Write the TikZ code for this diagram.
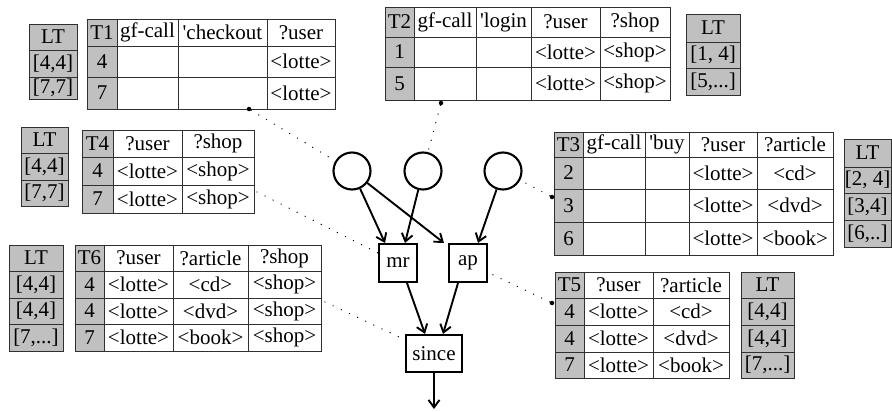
\documentclass[tikz,border=0pt]{standalone}
\usepackage{fontspec}
\setmainfont{Liberation Serif}
\usetikzlibrary{arrows.meta}

\definecolor{keygrey}{HTML}{C0C0C0}
\definecolor{rulecol}{HTML}{303030}

\tikzset{
  tcell/.style={draw=rulecol, line width=0.9pt, inner sep=0pt, outer sep=0pt,
    anchor=north west, font=\fontsize{21}{24}\selectfont},
  vertex/.style={circle, draw, line width=2.1pt, minimum size=37pt, inner sep=0pt},
  opbox/.style={rectangle, draw, line width=2.1pt, minimum width=38pt,
    minimum height=38pt, inner sep=0pt, font=\fontsize{21}{24}\selectfont},
  flow/.style={line width=1.9pt, -{Straight Barb[length=7.5pt,width=11pt]}},
  link/.style={line width=1.4pt, dash pattern=on 0pt off 9pt, line cap=round},
  pin/.style={circle, fill, inner sep=0pt, minimum size=4.5pt},
}

% one row of a relation table: key column grey, the rest white
\newcommand\tabrow[5]{%
  \foreach \xa/\xb/\txt [count=\c] in {#5} {%
    \ifnum\c=1 \def\cf{keygrey}\else\def\cf{white}\fi
    \node[tcell, fill=\cf, minimum width=\xb-\xa, minimum height=#4-#3]
      (#1-#2-\c) at (\xa,#3) {\txt};
  }}

% a column of lifetime intervals
\newcommand\ltcol[4]{%
  \foreach \ya/\yb/\txt [count=\r] in {#4} {%
    \node[tcell, fill=keygrey, minimum width=#3-#2, minimum height=\yb-\ya]
      (#1-\r) at (#2,\ya) {\txt};
  }}

\begin{document}
\begin{tikzpicture}[x=1pt, y=-1pt]
\useasboundingbox (0,0) rectangle (892,412);

% ---- T1 ----
\tabrow{t1}{0}{19}{46}{87/117/T1, 117/178/gf-call, 178/267/\textquotesingle checkout, 267/335/?user}
\tabrow{t1}{1}{46}{77}{87/117/4, 117/178/{}, 178/267/{}, 267/335/<lotte>}
\tabrow{t1}{2}{77}{109}{87/117/7, 117/178/{}, 178/267/{}, 267/335/<lotte>}
\ltcol{lt1}{29}{77}{24/50/LT, 50/77/{[4,4]}, 77/99/{[7,7]}}

% ---- T2 ----
\tabrow{t2}{0}{7}{37}{385/414/T2, 414/476/gf-call, 476/531/\textquotesingle login, 531/600/?user, 600/670/?shop}
\tabrow{t2}{1}{37}{67}{385/414/1, 414/476/{}, 476/531/{}, 531/600/<lotte>, 600/670/<shop>}
\tabrow{t2}{2}{67}{100}{385/414/5, 414/476/{}, 476/531/{}, 531/600/<lotte>, 600/670/<shop>}
\ltcol{lt2}{686}{740}{14/42/LT, 42/68/{[1, 4]}, 68/95/{[5,...]}}

% ---- T3 ----
\tabrow{t3}{0}{132}{157}{554/583/T3, 583/645/gf-call, 645/689/\textquotesingle buy, 689/757/?user, 757/833/?article}
\tabrow{t3}{1}{157}{189}{554/583/2, 583/645/{}, 645/689/{}, 689/757/<lotte>, 757/833/<cd>}
\tabrow{t3}{2}{189}{222}{554/583/3, 583/645/{}, 645/689/{}, 689/757/<lotte>, 757/833/<dvd>}
\tabrow{t3}{3}{222}{255}{554/583/6, 583/645/{}, 645/689/{}, 689/757/<lotte>, 757/833/<book>}
\ltcol{lt3}{844}{891}{139/167/LT, 167/193/{[2, 4]}, 193/220/{[3,4]}, 220/247/{[6,..]}}

% ---- T4 ----
\tabrow{t4}{0}{130}{157}{82/113/T4, 113/182/?user, 182/254/?shop}
\tabrow{t4}{1}{157}{185}{82/113/4, 113/182/<lotte>, 182/254/<shop>}
\tabrow{t4}{2}{185}{213}{82/113/7, 113/182/<lotte>, 182/254/<shop>}
\ltcol{lt4}{21}{68}{127/153/LT, 153/180/{[4,4]}, 180/206/{[7,7]}}

% ---- T6 ----
\tabrow{t6}{0}{245}{271}{75/104/T6, 104/173/?user, 173/248/?article, 248/321/?shop}
\tabrow{t6}{1}{271}{298}{75/104/4, 104/173/<lotte>, 173/248/<cd>, 248/321/<shop>}
\tabrow{t6}{2}{298}{324}{75/104/4, 104/173/<lotte>, 173/248/<dvd>, 248/321/<shop>}
\tabrow{t6}{3}{324}{351}{75/104/7, 104/173/<lotte>, 173/248/<book>, 248/321/<shop>}
\ltcol{lt6}{9}{63}{245/271/LT, 271/298/{[4,4]}, 298/324/{[4,4]}, 324/351/{[7,...]}}

% ---- T5 ----
\tabrow{t5}{0}{272}{298}{555/584/T5, 584/653/?user, 653/729/?article}
\tabrow{t5}{1}{298}{325}{555/584/4, 584/653/<lotte>, 653/729/<cd>}
\tabrow{t5}{2}{325}{352}{555/584/4, 584/653/<lotte>, 653/729/<dvd>}
\tabrow{t5}{3}{352}{378}{555/584/7, 584/653/<lotte>, 653/729/<book>}
\ltcol{lt5}{741}{794}{272/298/LT, 298/325/{[4,4]}, 325/352/{[4,4]}, 352/378/{[7,...]}}

% ---- operator graph ----
\node[vertex] (c1) at (352,171) {};
\node[vertex] (c2) at (423,171) {};
\node[vertex] (c3) at (503,171) {};
\node[opbox] (mr) at (398,263) {mr};
\node[opbox] (ap) at (468,263) {ap};
\node[opbox, minimum width=56pt, minimum height=37pt] (since) at (434,353.5) {since};
\coordinate (out) at (434,409);

\draw[flow] (c1) -- ([xshift=-13pt]mr.north);
\draw[flow] (c2) -- ([xshift=7pt]mr.north);
\draw[flow] (c1) -- ([xshift=-4pt]ap.north west);
\draw[flow] (c3) -- ([xshift=10pt]ap.north);
\draw[flow] ([xshift=9pt]mr.south) -- ([xshift=-9pt]since.north);
\draw[flow] ([xshift=-10pt]ap.south) -- ([xshift=9pt]since.north);
\draw[flow] (since) -- (out);

% ---- links from tables to graph nodes ----
\node[pin] (p1) at (249,109) {};
\node[pin] (p2) at (441,103) {};
\node[pin] (p3) at (552,197) {};
\node[pin] (p5) at (552,303) {};
\coordinate (p4) at (257,192);
\coordinate (p6) at (325,302);

\draw[link] (p1) -- (c1);
\draw[link] (p2) -- (c2);
\draw[link] (p3) -- (c3);
\draw[link] (p4) -- (mr);
\draw[link] (p5) -- (ap);
\draw[link] (p6) -- (since);
\end{tikzpicture}
\end{document}
